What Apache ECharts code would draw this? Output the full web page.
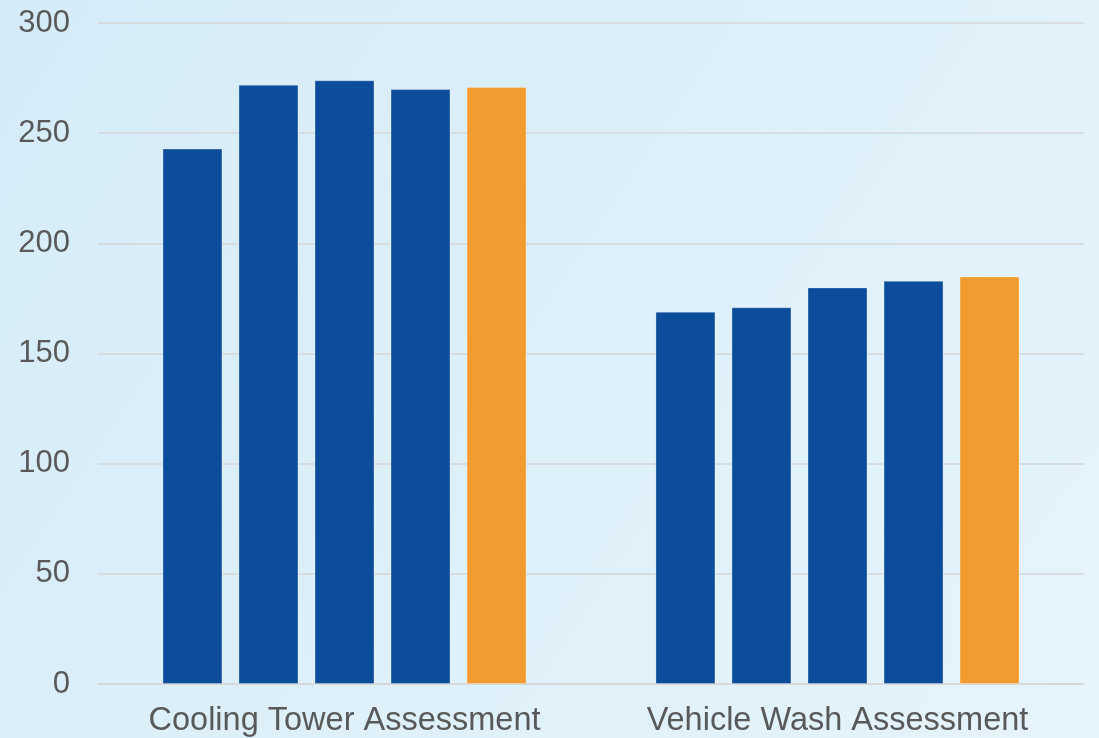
<!DOCTYPE html>
<html>
<head>
<meta charset="utf-8">
<script src="https://cdn.jsdelivr.net/npm/echarts@6/dist/echarts.min.js"></script>
<style>
  html, body { margin: 0; padding: 0; }
  #chart { width: 1099px; height: 738px; }
</style>
</head>
<body>
<div id="chart"></div>
<script>
// categories and values
const categories = ['Cooling Tower Assessment', 'Vehicle Wash Assessment'];
const seriesNames = ['Series 1', 'Series 2', 'Series 3', 'Series 4', 'Series 5'];
const series1 = [243, 169];
const series2 = [272, 171];
const series3 = [274, 180];
const series4 = [270, 183];
const series5 = [271, 185];
const yTicks = [0, 50, 100, 150, 200, 250, 300];

const BLUE = '#0b4d9b';
const ORANGE = '#f29b2f';

const allValues = [series1, series2, series3, series4, series5];
const colors = [BLUE, BLUE, BLUE, BLUE, ORANGE];

const chart = echarts.init(document.getElementById('chart'));

const option = {
  animation: false,
  backgroundColor: {
    type: 'linear',
    x: 0, y: 0, x2: 1, y2: 1,
    colorStops: [
      { offset: 0, color: '#d5ecf8' },
      { offset: 1, color: '#e6f4fb' },
    ],
  },
  textStyle: {
    fontFamily: '"Liberation Sans", Arial, sans-serif',
  },
  grid: {
    left: 98,
    right: 15,
    top: 23,
    bottom: 54,
  },
  xAxis: {
    type: 'category',
    data: categories,
    axisTick: { show: false },
    axisLine: {
      lineStyle: { color: '#d6d6d6', width: 1.5 },
    },
    axisLabel: {
      interval: 0,
      hideOverlap: false,
      color: '#595959',
      fontSize: 32.5,
      margin: 21,
    },
  },
  yAxis: {
    type: 'value',
    min: yTicks[0],
    max: yTicks[yTicks.length - 1],
    interval: 50,
    axisLine: { show: false },
    axisTick: { show: false },
    axisLabel: {
      color: '#595959',
      fontSize: 31,
      margin: 28,
    },
    splitLine: {
      lineStyle: { color: '#d6d6d6', width: 1.5 },
    },
  },
  series: allValues.map((vals, i) => ({
    name: seriesNames[i],
    type: 'bar',
    data: vals,
    barWidth: 60,
    barGap: '26.7%',
    itemStyle: {
      color: colors[i],
      borderColor: 'rgba(255,255,255,0.3)',
      borderWidth: 1,
    },
  })),
};

chart.setOption(option, true);
</script>
</body>
</html>
